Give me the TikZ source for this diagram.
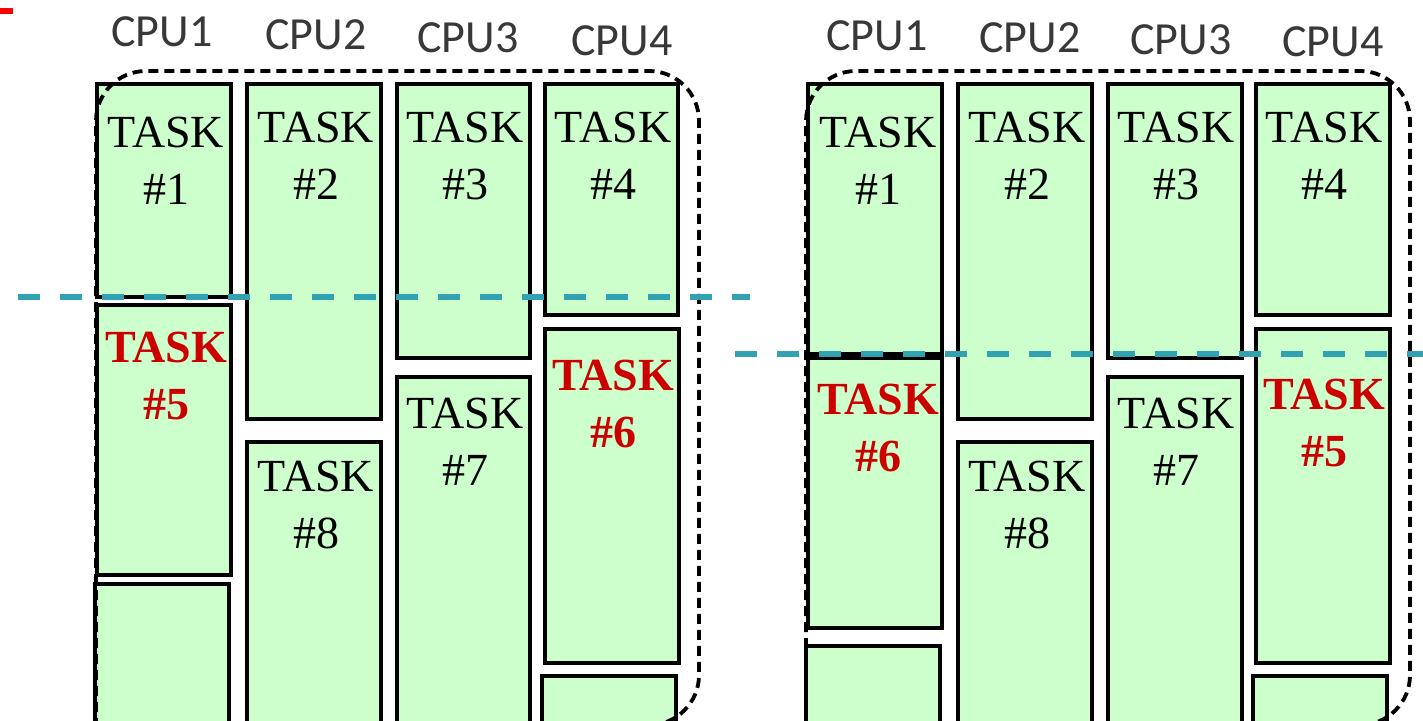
\documentclass[tikz,border=0pt]{standalone}
\usepackage{fontspec}
\setmainfont{Liberation Serif}
\newfontfamily\cpufont{Carlito}
\definecolor{taskfill}{HTML}{CCFFCC}
\definecolor{cutline}{HTML}{30A2B2}
\definecolor{hotred}{HTML}{CC0000}
\definecolor{cpugray}{HTML}{383838}
\tikzset{
  taskbox/.style={draw=black, line width=3.4pt, fill=taskfill, rectangle, inner sep=0pt, outer sep=0pt},
  tasktext/.style={align=center, inner sep=0pt, font=\fontsize{46}{57}\selectfont},
  hottext/.style={tasktext, text=hotred, font=\fontsize{46}{57}\selectfont\bfseries},
  cpulabel/.style={inner sep=0pt, text=cpugray, font=\fontsize{46}{50}\selectfont\cpufont},
  groupframe/.style={draw=black, line width=3.8pt, dash pattern=on 10pt off 6pt},
  cutmark/.style={draw=cutline, line width=5.5pt, dash pattern=on 22pt off 20pt},
}
% box given by its corners: name, x1, y1, x2, y2
\newcommand\tbox[5]{%
  \node[taskbox, minimum width={(#4)-(#2)}, minimum height={(#5)-(#3)}]
    (#1) at ({((#2)+(#4))/2},{((#3)+(#5))/2}) {};}
\begin{document}
\begin{tikzpicture}[x=1pt, y=-1pt]
\clip (0,0) rectangle (1423,720);
\fill[white] (0,0) rectangle (1423,720);

% small red mark in the corner
\fill[red] (0,8) rectangle (13,14);

% ---------- left schedule ----------
\node[cpulabel] (lc1) at (162,32) {CPU1};
\node[cpulabel] (lc2) at (316,35) {CPU2};
\node[cpulabel] (lc3) at (468,38) {CPU3};
\node[cpulabel] (lc4) at (622,41) {CPU4};

\tbox{lt1}{97}{84}{231}{297}
\tbox{lt5}{97}{305}{231}{575}
\tbox{lt9}{95}{584}{229}{760}
\tbox{lt2}{247}{84}{381}{419}
\tbox{lt8}{247}{442}{381}{760}
\tbox{lt3}{397}{84}{530}{358}
\tbox{lt7}{397}{377}{530}{760}
\tbox{lt4}{545}{84}{678}{315}
\tbox{lt6}{545}{329}{679}{663}
\tbox{lt10}{542}{676}{676}{760}

\node[tasktext] (ln1) at (166,161) {TASK\\\#1};
\node[tasktext] (ln2) at (316,156) {TASK\\\#2};
\node[tasktext] (ln3) at (465,156) {TASK\\\#3};
\node[tasktext] (ln4) at (613,156) {TASK\\\#4};
\node[hottext]  (ln5) at (166,376) {TASK\\\#5};
\node[hottext]  (ln6) at (613,404) {TASK\\\#6};
\node[tasktext] (ln7) at (465,442) {TASK\\\#7};
\node[tasktext] (ln8) at (316,505) {TASK\\\#8};

% group frame, open at the bottom left
\draw[groupframe, rounded corners=50pt]
  (96,760) -- (96,71) -- (699,71) -- (699,725) -- (560,725);
\coordinate (lcutA) at (18,297);
\coordinate (lcutB) at (750,297);
\draw[cutmark] (lcutA) -- (lcutB);

% ---------- right schedule ----------
\node[cpulabel] (rc1) at (877,36) {CPU1};
\node[cpulabel] (rc2) at (1030,38) {CPU2};
\node[cpulabel] (rc3) at (1181,40) {CPU3};
\node[cpulabel] (rc4) at (1333,42) {CPU4};

\tbox{rt1}{808}{84}{942}{354}
\tbox{rt6}{808}{358}{942}{628}
\tbox{rt9}{806}{646}{940}{760}
\tbox{rt2}{958}{84}{1092}{419}
\tbox{rt8}{958}{442}{1092}{760}
\tbox{rt3}{1108}{84}{1242}{358}
\tbox{rt7}{1108}{377}{1242}{760}
\tbox{rt4}{1256}{84}{1390}{315}
\tbox{rt5}{1256}{329}{1390}{663}
\tbox{rt10}{1253}{676}{1387}{760}

\node[tasktext] (rn1) at (878,161) {TASK\\\#1};
\node[tasktext] (rn2) at (1027,156) {TASK\\\#2};
\node[tasktext] (rn3) at (1176,156) {TASK\\\#3};
\node[tasktext] (rn4) at (1324,156) {TASK\\\#4};
\node[hottext]  (rn6) at (878,428) {TASK\\\#6};
\node[tasktext] (rn7) at (1176,442) {TASK\\\#7};
\node[tasktext] (rn8) at (1027,505) {TASK\\\#8};
\node[hottext]  (rn5) at (1324,423) {TASK\\\#5};

\draw[groupframe, rounded corners=50pt]
  (806,760) -- (806,71) -- (1410,71) -- (1410,725) -- (1270,725);
\coordinate (rcutA) at (735,354);
\coordinate (rcutB) at (1430,354);
\draw[cutmark] (rcutA) -- (rcutB);
\end{tikzpicture}
\end{document}
